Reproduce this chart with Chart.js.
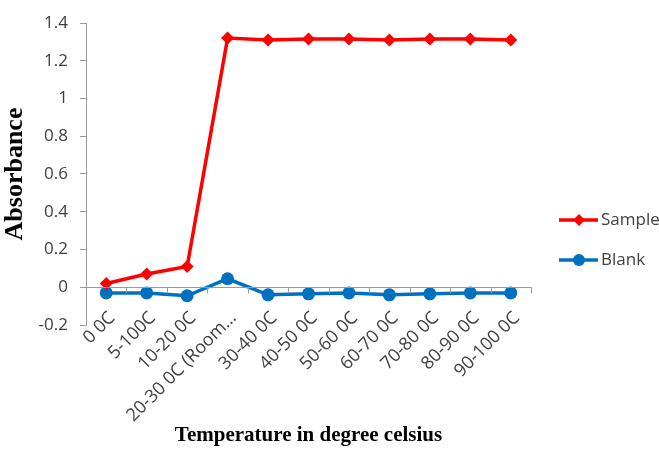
<!DOCTYPE html>
<html lang="en">
<head>
  <meta charset="UTF-8">
  <title>Absorbance vs Temperature</title>
  <script src="https://cdn.jsdelivr.net/npm/chart.js"></script>
  <style>
    html, body { margin: 0; padding: 0; background: #fff; }
    #wrap { width: 659px; height: 452px; }
  </style>
</head>
<body>
  <div id="wrap"><canvas id="absChart" width="659" height="452"></canvas></div>

  <script>
    // categories and readings taken from the figure
    const temperatures = ['0 0C', '5-100C', '10-20 0C', '20-30 0C (Room…', '30-40 0C', '40-50 0C',
                          '50-60 0C', '60-70 0C', '70-80 0C', '80-90 0C', '90-100 0C'];
    const sampleValues = [0.02, 0.07, 0.11, 1.32, 1.31, 1.315, 1.315, 1.31, 1.315, 1.315, 1.31];
    const blankValues = [-0.03, -0.03, -0.045, 0.045, -0.04, -0.035, -0.03, -0.04, -0.035, -0.03, -0.03];
    const yTicks = [-0.2, 0, 0.2, 0.4, 0.6, 0.8, 1, 1.2, 1.4];

    const tickFont = { family: "'Open Sans', 'Noto Sans', sans-serif", size: 17 };
    const xTitleFont = { family: "'Liberation Serif', serif", size: 21, weight: 'bold' };
    const yTitleFont = { family: "'Liberation Serif', serif", size: 26, weight: 'bold' };

    // zero line with tick marks, rotated category labels (they sit a bit inside
    // the plot like in the Excel original) and the legend on the right
    const extras = {
      id: 'extras',
      afterDraw(chart) {
        const { ctx, scales: { x, y } } = chart;
        const y0 = y.getPixelForValue(0);
        ctx.save();
        ctx.strokeStyle = '#9a9a9a';
        ctx.lineWidth = 1;
        ctx.beginPath();
        ctx.moveTo(x.left, Math.round(y0) + 0.5);
        ctx.lineTo(x.right, Math.round(y0) + 0.5);
        const step = (x.right - x.left) / temperatures.length;
        for (let i = 0; i <= temperatures.length; i++) {
          const px = Math.round(x.left + i * step) + 0.5;
          ctx.moveTo(px, y0);
          ctx.lineTo(px, y0 + 6);
        }
        ctx.stroke();

        ctx.font = "18px 'Open Sans', 'Noto Sans', sans-serif";
        ctx.fillStyle = '#404040';
        ctx.textAlign = 'right';
        ctx.textBaseline = 'middle';
        temperatures.forEach((lab, i) => {
          const px = x.getPixelForValue(i);
          ctx.save();
          ctx.translate(px + 6, y.bottom - 10);
          ctx.rotate(-Math.PI / 4);
          ctx.fillText(lab, 0, 0);
          ctx.restore();
        });

        const items = [
          { label: 'Sample', color: '#ff0000', style: 'rectRot', ly: 220 },
          { label: 'Blank', color: '#0070c0', style: 'circle', ly: 260 }
        ];
        ctx.font = "17px 'Open Sans', 'Noto Sans', sans-serif";
        ctx.textAlign = 'left';
        items.forEach(it => {
          ctx.strokeStyle = it.color;
          ctx.lineWidth = 3.5;
          ctx.beginPath();
          ctx.moveTo(559, it.ly);
          ctx.lineTo(598, it.ly);
          ctx.stroke();
          ctx.fillStyle = it.color;
          Chart.helpers.drawPoint(ctx, { pointStyle: it.style, radius: 6, borderWidth: 0 }, 579, it.ly);
          ctx.fillStyle = '#404040';
          ctx.fillText(it.label, 601, it.ly);
        });
        ctx.restore();
      }
    };

    new Chart(document.getElementById('absChart').getContext('2d'), {
      type: 'line',
      data: {
        labels: temperatures,
        datasets: [
          {
            label: 'Sample',
            data: sampleValues,
            borderColor: '#ff0000',
            backgroundColor: '#ff0000',
            borderWidth: 3.5,
            pointStyle: 'rectRot',
            pointRadius: 6.5,
            pointBorderWidth: 0,
            tension: 0,
            fill: false
          },
          {
            label: 'Blank',
            data: blankValues,
            borderColor: '#0070c0',
            backgroundColor: '#0070c0',
            borderWidth: 3.5,
            pointStyle: 'circle',
            pointRadius: 6.5,
            pointBorderWidth: 0,
            tension: 0,
            fill: false
          }
        ]
      },
      options: {
        responsive: false,
        animation: false,
        layout: { padding: { left: 0, right: 128, top: 23, bottom: 4 } },
        plugins: {
          legend: { display: false },
          tooltip: { enabled: false }
        },
        scales: {
          x: {
            offset: true,
            grid: { display: false },
            border: { display: false },
            afterFit: s => { s.height = 123; },
            ticks: { display: false },
            title: {
              display: true, text: 'Temperature in degree celsius',
              font: xTitleFont, color: '#000', padding: { top: 0, bottom: 0 }
            }
          },
          y: {
            min: -0.2, max: 1.4,
            afterBuildTicks: s => { s.ticks = yTicks.map(v => ({ value: v })); },
            afterFit: s => { s.width = 86; },
            grid: {
              drawOnChartArea: false, drawTicks: true, tickLength: 6, color: '#9a9a9a'
            },
            border: { display: true, color: '#9a9a9a' },
            ticks: {
              font: tickFont, color: '#404040', padding: 12,
              callback: v => String(Math.round(v * 10) / 10)
            },
            title: {
              display: true, text: 'Absorbance',
              font: yTitleFont, color: '#000', padding: { top: 0, bottom: 4 }
            }
          }
        }
      },
      plugins: [extras]
    });
  </script>
</body>
</html>
